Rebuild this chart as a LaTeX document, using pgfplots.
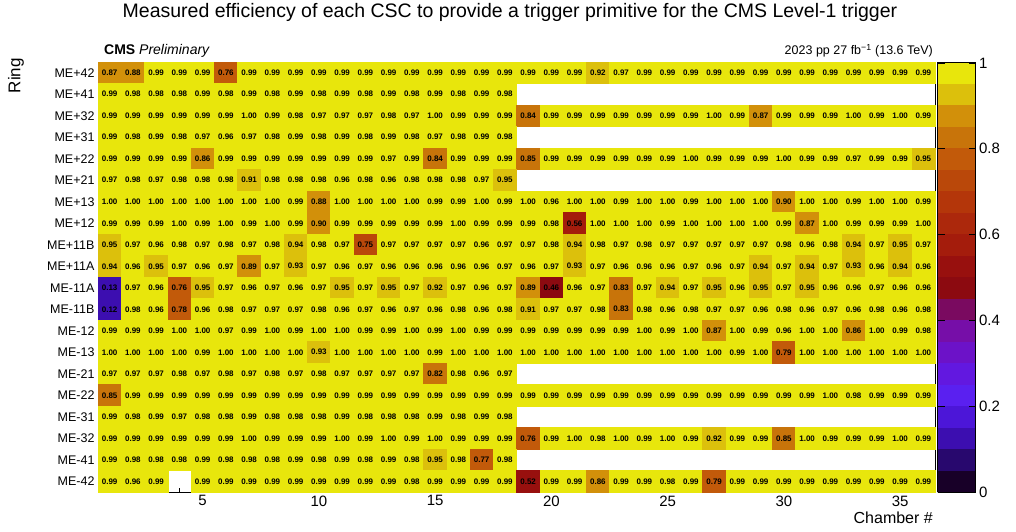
\documentclass[border=0pt]{standalone}
\usepackage{pgfplots}
\usepackage{pgfplotstable}
\usepackage{fontspec}
\setmainfont{Liberation Sans}
\pgfplotsset{compat=1.18}

% one row per ring, one column per chamber (nan = chamber does not exist)
\pgfplotstableread[header=has colnames]{
ring 1 2 3 4 5 6 7 8 9 10 11 12 13 14 15 16 17 18 19 20 21 22 23 24 25 26 27 28 29 30 31 32 33 34 35 36
p42 0.87 0.88 0.99 0.99 0.99 0.76 0.99 0.99 0.99 0.99 0.99 0.99 0.99 0.99 0.99 0.99 0.99 0.99 0.99 0.99 0.99 0.92 0.97 0.99 0.99 0.99 0.99 0.99 0.99 0.99 0.99 0.99 0.99 0.99 0.99 0.99
p41 0.99 0.98 0.98 0.98 0.99 0.98 0.99 0.98 0.99 0.98 0.99 0.98 0.99 0.98 0.99 0.98 0.99 0.98 nan nan nan nan nan nan nan nan nan nan nan nan nan nan nan nan nan nan
p32 0.99 0.99 0.99 0.99 0.99 0.99 1.00 0.99 0.98 0.97 0.97 0.97 0.98 0.97 1.00 0.99 0.99 0.99 0.84 0.99 0.99 0.99 0.99 0.99 0.99 0.99 1.00 0.99 0.87 0.99 0.99 0.99 1.00 0.99 1.00 0.99
p31 0.99 0.98 0.99 0.98 0.97 0.96 0.97 0.98 0.99 0.98 0.99 0.98 0.99 0.98 0.97 0.98 0.99 0.98 nan nan nan nan nan nan nan nan nan nan nan nan nan nan nan nan nan nan
p22 0.99 0.99 0.99 0.99 0.86 0.99 0.99 0.99 0.99 0.99 0.99 0.99 0.97 0.99 0.84 0.99 0.99 0.99 0.85 0.99 0.99 0.99 0.99 0.99 0.99 1.00 0.99 0.99 0.99 1.00 0.99 0.99 0.97 0.99 0.99 0.95
p21 0.97 0.98 0.97 0.98 0.98 0.98 0.91 0.98 0.98 0.98 0.96 0.98 0.96 0.98 0.98 0.98 0.97 0.95 nan nan nan nan nan nan nan nan nan nan nan nan nan nan nan nan nan nan
p13 1.00 1.00 1.00 1.00 1.00 1.00 1.00 1.00 0.99 0.88 1.00 1.00 1.00 1.00 0.99 0.99 1.00 0.99 1.00 0.96 1.00 1.00 0.99 1.00 1.00 0.99 1.00 1.00 1.00 0.90 1.00 1.00 0.99 1.00 1.00 0.99
p12 0.99 0.99 0.99 1.00 0.99 1.00 0.99 1.00 0.99 0.90 0.99 0.99 0.99 0.99 0.99 1.00 0.99 0.99 0.99 0.98 0.56 1.00 1.00 1.00 0.99 1.00 1.00 1.00 1.00 0.99 0.87 1.00 0.99 0.99 0.99 1.00
p11B 0.95 0.97 0.96 0.98 0.97 0.98 0.97 0.98 0.94 0.98 0.97 0.75 0.97 0.97 0.97 0.97 0.96 0.97 0.97 0.98 0.94 0.98 0.97 0.98 0.97 0.97 0.97 0.97 0.97 0.98 0.96 0.98 0.94 0.97 0.95 0.97
p11A 0.94 0.96 0.95 0.97 0.96 0.97 0.89 0.97 0.93 0.97 0.96 0.97 0.96 0.96 0.96 0.96 0.96 0.97 0.96 0.97 0.93 0.97 0.96 0.96 0.96 0.97 0.96 0.97 0.94 0.97 0.94 0.97 0.93 0.96 0.94 0.96
m11A 0.13 0.97 0.96 0.76 0.95 0.97 0.96 0.97 0.96 0.97 0.95 0.97 0.95 0.97 0.92 0.97 0.96 0.97 0.89 0.46 0.96 0.97 0.83 0.97 0.94 0.97 0.95 0.96 0.95 0.97 0.95 0.96 0.96 0.97 0.96 0.96
m11B 0.12 0.98 0.96 0.78 0.96 0.98 0.97 0.97 0.97 0.98 0.96 0.97 0.96 0.97 0.96 0.98 0.96 0.98 0.91 0.97 0.97 0.98 0.83 0.98 0.96 0.98 0.97 0.97 0.96 0.98 0.96 0.97 0.96 0.98 0.96 0.98
m12 0.99 0.99 0.99 1.00 1.00 0.97 0.99 1.00 0.99 1.00 1.00 0.99 0.99 1.00 0.99 1.00 0.99 0.99 0.99 0.99 0.99 0.99 0.99 1.00 0.99 1.00 0.87 1.00 0.99 0.96 1.00 1.00 0.86 1.00 0.99 0.98
m13 1.00 1.00 1.00 1.00 0.99 1.00 1.00 1.00 1.00 0.93 1.00 1.00 1.00 1.00 0.99 1.00 1.00 1.00 1.00 1.00 1.00 1.00 1.00 1.00 1.00 1.00 1.00 0.99 1.00 0.79 1.00 1.00 1.00 1.00 1.00 1.00
m21 0.97 0.97 0.97 0.98 0.97 0.98 0.97 0.98 0.97 0.98 0.97 0.97 0.97 0.97 0.82 0.98 0.96 0.97 nan nan nan nan nan nan nan nan nan nan nan nan nan nan nan nan nan nan
m22 0.85 0.99 0.99 0.99 0.99 0.99 0.99 0.99 0.99 0.99 0.99 0.99 0.99 0.99 0.99 0.99 0.99 0.99 0.99 0.99 0.99 0.99 0.99 0.99 0.99 0.99 0.99 0.99 0.99 0.99 0.99 1.00 0.98 0.99 0.99 0.99
m31 0.99 0.98 0.99 0.97 0.98 0.98 0.99 0.98 0.98 0.98 0.99 0.98 0.98 0.98 0.99 0.98 0.99 0.98 nan nan nan nan nan nan nan nan nan nan nan nan nan nan nan nan nan nan
m32 0.99 0.99 0.99 0.99 0.99 0.99 1.00 0.99 0.99 0.99 1.00 0.99 1.00 0.99 1.00 0.99 0.99 0.99 0.76 0.99 1.00 0.98 1.00 0.99 1.00 0.99 0.92 0.99 0.99 0.85 1.00 0.99 0.99 0.99 1.00 0.99
m41 0.99 0.98 0.98 0.98 0.99 0.98 0.98 0.98 0.99 0.98 0.99 0.98 0.99 0.98 0.95 0.98 0.77 0.98 nan nan nan nan nan nan nan nan nan nan nan nan nan nan nan nan nan nan
m42 0.99 0.96 0.99 nan 0.99 0.99 0.99 0.99 0.99 0.99 0.99 0.99 0.99 0.98 0.99 0.99 0.99 0.99 0.52 0.99 0.99 0.86 0.99 0.99 0.98 0.99 0.79 0.99 0.99 0.99 0.99 0.99 0.99 0.99 0.99 0.99
}\rawdata
\pgfplotstabletranspose[colnames from=ring]\effdata{\rawdata}

\pgfplotsset{
  cell/.style={
    scatter, only marks, mark=square*, mark size=10.75pt,
    scatter/use mapped color={draw=mapped color, fill=mapped color},
    mark options={xscale=1.0814, line width=0.4pt},
    point meta=explicit,
  },
  celltext/.style={
    only marks, mark=none, point meta=explicit,
    nodes near coords={\pgfmathprintnumber[fixed,fixed zerofill,precision=2,assume math mode=true]{\pgfplotspointmeta}},
    every node near coord/.append style={anchor=center, inner sep=0pt, text=black,
      font=\fontsize{8}{8}\selectfont\bfseries},
  },
  short/.style={skip coords between index={18}{36}},
}
% #1 extra options, #2 row position, #3 ring column
\newcommand{\ringcells}[3][]{\addplot[cell,#1] table[x=colnames, y expr=#2, meta=#3] {\effdata};}
\newcommand{\ringtext}[3][]{\addplot[celltext,#1] table[x=colnames, y expr=#2, meta=#3] {\effdata};}

\begin{document}
\begin{tikzpicture}
\useasboundingbox (0,0) rectangle (1016pt,532pt);
\begin{axis}[
  at={(98pt,40pt)}, anchor=south west,
  width=837pt, height=430pt, scale only axis,
  xmin=0.5, xmax=36.5, ymin=0.5, ymax=20.5,
  xtick={5,10,...,35}, minor xtick={1,...,36},
  ytick={1,...,20},
  yticklabels={ME-42,ME-41,ME-32,ME-31,ME-22,ME-21,ME-13,ME-12,ME-11B,ME-11A,ME+11A,ME+11B,ME+12,ME+13,ME+21,ME+22,ME+31,ME+32,ME+41,ME+42},
  xtick pos=left, tick align=inside,
  major tick length=8pt, minor tick length=4pt,
  ytick style={draw=none},
  xtick style={black, line width=0.6pt},
  axis line style={black, line width=0.6pt},
  xticklabel style={font=\fontsize{15}{15}\selectfont},
  yticklabel style={font=\fontsize{12.5}{13}\selectfont},
  /pgf/number format/assume math mode=true,
  axis on top,
  point meta min=0, point meta max=1.002,
  colormap access=piecewise constant,
  colormap={csc}{
    rgb255(0cm)=(24,0,40) rgb255(1cm)=(40,8,110) rgb255(2cm)=(60,14,176)
    rgb255(3cm)=(76,22,216) rgb255(4cm)=(90,32,240) rgb255(5cm)=(98,24,224)
    rgb255(6cm)=(108,18,200) rgb255(7cm)=(118,14,168) rgb255(8cm)=(122,10,96)
    rgb255(9cm)=(140,10,16) rgb255(10cm)=(152,16,14) rgb255(11cm)=(164,28,12)
    rgb255(12cm)=(172,40,12) rgb255(13cm)=(180,54,10) rgb255(14cm)=(186,72,10)
    rgb255(15cm)=(194,90,10) rgb255(16cm)=(200,116,10) rgb255(17cm)=(210,144,10)
    rgb255(18cm)=(220,192,12) rgb255(19cm)=(232,230,12) rgb255(20cm)=(232,230,12)
  },
  colorbar,
  colorbar style={
    at={(parent axis.north east)}, anchor=north west, xshift=-6pt,
    scale only axis, width=38pt,
    ytick={0,0.2,0.4,0.6,0.8,1},
    yticklabel style={font=\fontsize{15}{15}\selectfont, /pgf/number format/assume math mode=true},
    major tick length=7pt,
    ytick style={black, line width=0.6pt},
    axis line style={black, line width=0.6pt},
  },
]
\ringcells{20}{p42}
\ringcells[short]{19}{p41}
\ringcells{18}{p32}
\ringcells[short]{17}{p31}
\ringcells{16}{p22}
\ringcells[short]{15}{p21}
\ringcells{14}{p13}
\ringcells{13}{p12}
\ringcells{12}{p11B}
\ringcells{11}{p11A}
\ringcells{10}{m11A}
\ringcells{9}{m11B}
\ringcells{8}{m12}
\ringcells{7}{m13}
\ringcells[short]{6}{m21}
\ringcells{5}{m22}
\ringcells[short]{4}{m31}
\ringcells{3}{m32}
\ringcells[short]{2}{m41}
\ringcells[skip coords between index={3}{4}]{1}{m42}
\ringtext{20}{p42}
\ringtext[short]{19}{p41}
\ringtext{18}{p32}
\ringtext[short]{17}{p31}
\ringtext{16}{p22}
\ringtext[short]{15}{p21}
\ringtext{14}{p13}
\ringtext{13}{p12}
\ringtext{12}{p11B}
\ringtext{11}{p11A}
\ringtext{10}{m11A}
\ringtext{9}{m11B}
\ringtext{8}{m12}
\ringtext{7}{m13}
\ringtext[short]{6}{m21}
\ringtext{5}{m22}
\ringtext[short]{4}{m31}
\ringtext{3}{m32}
\ringtext[short]{2}{m41}
\ringtext[skip coords between index={3}{4}]{1}{m42}
\end{axis}
\node[anchor=base] at (510pt,514pt) {\fontsize{19.5}{20}\selectfont Measured efficiency of each CSC to provide a trigger primitive for the CMS Level-1 trigger};
\node[anchor=base west, inner sep=0pt] at (104pt,477pt) {\fontsize{14}{14}\selectfont\textbf{CMS} \textit{Preliminary}};
\node[anchor=base east, inner sep=0pt] at (933pt,477pt) {\fontsize{12.5}{13}\selectfont 2023 pp 27 fb\textsuperscript{−1} (13.6 TeV)};
\node[rotate=90, anchor=east, inner sep=0pt] at (16pt,474pt) {\fontsize{17}{17}\selectfont Ring};
\node[anchor=base east, inner sep=0pt] at (933pt,9pt) {\fontsize{16}{16}\selectfont Chamber \#};
\end{tikzpicture}
\end{document}
